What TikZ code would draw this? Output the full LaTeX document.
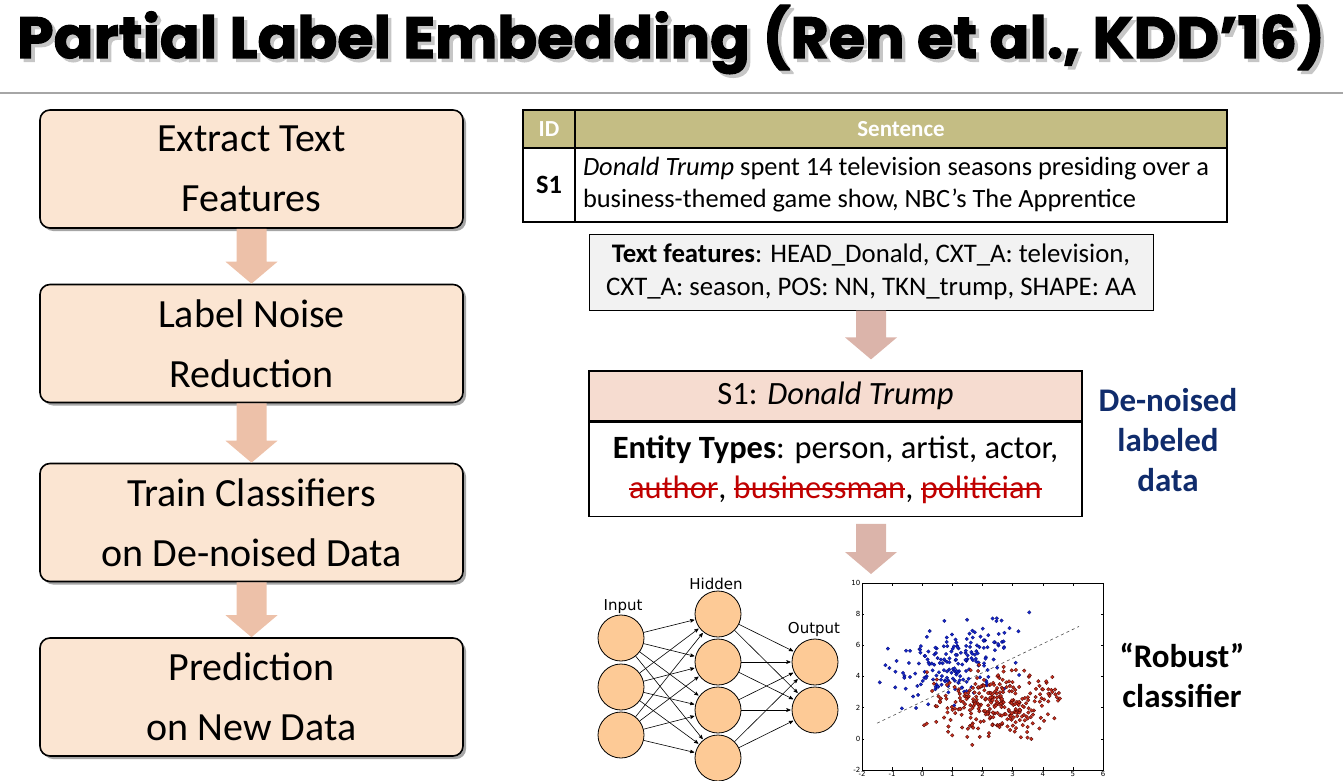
\documentclass[tikz,border=0pt]{standalone}
\usepackage{fontspec}
\usepackage{graphicx}
\setmainfont{Carlito}
\newfontfamily\titlefont{Poppins}[BoldFeatures={FakeBold=2}]
\newfontfamily\netfont{DejaVu Sans}
\usetikzlibrary{positioning}
\usetikzlibrary{arrows}
\usetikzlibrary{calc}
\usetikzlibrary{shadows}

\definecolor{boxfill}{HTML}{FBE5D2}
\definecolor{leftarrow}{HTML}{EDC1A9}
\definecolor{rightarrow}{HTML}{DBB4AA}
\definecolor{hdolive}{HTML}{C4BD84}
\definecolor{featfill}{HTML}{F2F2F2}
\definecolor{entfill}{HTML}{F6DCD0}
\definecolor{navytext}{HTML}{102C6C}
\definecolor{strikered}{HTML}{C00000}
\definecolor{neuronfill}{HTML}{FDCA96}
\definecolor{dotblue}{HTML}{1428C8}
\definecolor{dotred}{HTML}{C8321E}

\newlength{\strikelen}
\newcommand{\noisy}[1]{\settowidth{\strikelen}{#1}%
  \textcolor{strikered}{\rlap{\rule[0.25em]{\strikelen}{1.5pt}}#1}}
\newcommand{\titletext}{Partial Label Embedding (Ren et al., KDD’16)}

% fat block arrow: colour, from, to
\newcommand{\fatarrow}[3]{%
  \fill[#1] let \p1=#2, \p2=#3 in
    (\x1-15pt,\y1) -- (\x1+15pt,\y1) -- (\x1+15pt,\y2+22pt) -- (\x1+26pt,\y2+22pt)
    -- (\x1,\y2) -- (\x1-26pt,\y2+22pt) -- (\x1-15pt,\y2+22pt) -- cycle;}

\begin{document}
\begin{tikzpicture}[x=1pt,y=-1pt,
	stepbox/.style={draw=black,line width=1.6pt,rounded corners=10pt,fill=boxfill,
		minimum width=423pt,minimum height=118pt,text width=405pt,inner sep=5pt,align=flush center,
		font=\fontsize{40}{60}\selectfont,
		drop shadow={shadow xshift=3pt,shadow yshift=-3pt,opacity=0.35,fill=black}},
	hdcell/.style={draw=black,line width=1.2pt,fill=hdolive,minimum height=38pt,inner sep=0pt,
		text=white,font=\fontsize{23}{26}\selectfont\bfseries},
	rowcell/.style={draw=black,line width=1.2pt,fill=white,minimum height=74pt,inner sep=0pt,
		font=\fontsize{26.4}{32}\selectfont},
	featbox/.style={draw=black,line width=1pt,fill=featfill,minimum width=564pt,minimum height=76pt,
		inner sep=0pt,align=flush center,font=\fontsize{26.8}{33}\selectfont},
	enthead/.style={draw=black,line width=1.2pt,fill=entfill,minimum width=493pt,minimum height=50pt,
		inner sep=0pt,font=\fontsize{32.5}{40}\selectfont},
	entbody/.style={draw=black,line width=1.2pt,fill=white,minimum width=493pt,minimum height=94pt,
		inner sep=0pt,align=flush center,font=\fontsize{32.5}{40}\selectfont},
	sidelbl/.style={align=flush center,inner sep=0pt,font=\fontsize{33}{40}\selectfont\bfseries},
	neuron/.style={circle,draw=black,line width=0.8pt,fill=neuronfill,minimum size=46pt,inner sep=0pt},
	netlbl/.style={inner sep=0pt,font=\fontsize{15}{18}\netfont},
	netarrow/.style={->,>=stealth',line width=0.6pt,shorten >=1pt},
	ticklbl/.style={inner sep=1.5pt,font=\fontsize{7}{8}\netfont}]

\useasboundingbox (0,0) rectangle (1343,781);

% title, with its shadow in the same box
\node[anchor=base,inner sep=0pt] (title) at (671,58)
	{\resizebox{1308pt}{53pt}{\titlefont\bfseries
		\rlap{\hspace{0.6pt}\raisebox{-0.6pt}{\textcolor{gray!45}{\titletext}}}\titletext}};
\draw[gray!70,line width=1.5pt] (0,93) -- (1343,93);

% pipeline
\node[stepbox] (extract) at (251.5,169) {Extract Text\\Features};
\node[stepbox] (noise) at (251.5,343.5) {Label Noise\\Reduction};
\node[stepbox] (train) at (251.5,522.5) {Train Classifiers\\on De-noised Data};
\node[stepbox] (predict) at (251.5,697) {Prediction\\on New Data};

\fatarrow{leftarrow}{(extract.south)}{(noise.north)}
\fatarrow{leftarrow}{(noise.south)}{(train.north)}
\fatarrow{leftarrow}{(train.south)}{(predict.north)}

% sentence table
\node[hdcell,minimum width=52pt] (idhead) at (549,129) {ID};
\node[hdcell,minimum width=652pt] (senthead) at (901,129) {Sentence};
\node[rowcell,minimum width=52pt] (idrow) at (549,185) {\textbf{S1}};
\node[rowcell,minimum width=652pt,text width=636pt,align=flush left] (sentrow) at (901,185)
	{\textit{Donald Trump} spent 14 television seasons presiding over a\\business-themed game show, NBC’s The Apprentice};

\node[featbox] (feat) at (871,272)
	{\textbf{Text features}: HEAD\_Donald, CXT\_A: television,\\CXT\_A: season, POS: NN, TKN\_trump, SHAPE: AA};

\node[enthead] (ent) at (835.5,396) {S1: \textit{Donald Trump}};
\node[entbody,below=0pt of ent] (types)
	{\textbf{Entity Types}: person, artist, actor,\\\noisy{author}, \noisy{businessman}, \noisy{politician}};

\node[sidelbl,text=navytext] (denoised) at (1168,440) {De-noised\\labeled\\data};

\coordinate (plottop) at (873,574);
\fatarrow{rightarrow}{(feat.south)}{($(feat.south |- ent.north)+(0,-11)$)}
\fatarrow{rightarrow}{($(feat.south |- types.south)+(0,7)$)}{(plottop)}

% network
\node[netlbl] (inlbl) at (623,607) {Input};
\node[netlbl] (hidlbl) at (716,584) {Hidden};
\node[netlbl] (outlbl) at (814,629) {Output};
\foreach \i/\y in {1/638,2/687,3/735}
	\node[neuron] (in\i) at (621,\y) {};
\foreach \i/\y in {1/614,2/662,3/710,4/758}
	\node[neuron] (hid\i) at (718,\y) {};
\foreach \i/\y in {1/662,2/710}
	\node[neuron] (out\i) at (815,\y) {};
\foreach \i in {1,2,3}
	\foreach \j in {1,...,4}
		\draw[netarrow] (in\i) -- (hid\j);
\foreach \j in {1,...,4}
	\foreach \k in {1,2}
		\draw[netarrow] (hid\j) -- (out\k);

% scatter plot
\begin{scope}[shift={(922.25,738.8)},x=30.125pt,y=15.6pt]
	\fill[white] (-2,-2) rectangle (6,10);
	\begin{scope}
		\clip (-2,-2) rectangle (6,10);
		\draw[dashed,gray!60!black,line width=0.6pt] (-1.5,1) -- (5.2,7.2);
		\pgfmathsetseed{11}
		\foreach \n in {1,...,200} {
			\pgfmathsetmacro\gx{rand+rand+rand}
			\pgfmathsetmacro\gy{rand+rand+rand}
			\filldraw[fill=dotblue,draw=blue!40!black,line width=0.2pt]
				({1.0+0.95*\gx},{5.0+0.5*\gx+1.15*\gy}) circle[radius=1.8pt];
		}
		\foreach \n in {1,...,300} {
			\pgfmathsetmacro\gx{rand+rand+rand}
			\pgfmathsetmacro\gy{rand+rand+rand}
			\filldraw[fill=dotred,draw=red!30!black,line width=0.3pt]
				({2.35+1.0*\gx},{2.3+0.1*\gx+1.0*\gy}) circle[radius=1.8pt];
		}
	\end{scope}
	\draw[line width=0.6pt] (-2,-2) rectangle (6,10);
	\foreach \t in {-2,...,6} {
		\draw[line width=0.4pt] (\t,-2) -- ++(0,0.2) (\t,10) -- ++(0,-0.2);
		\node[ticklbl,below] (xt\t) at (\t,-2) {\t};
	}
	\foreach \t in {-2,0,...,10} {
		\draw[line width=0.4pt] (-2,\t) -- ++(0.08,0) (6,\t) -- ++(-0.08,0);
		\node[ticklbl,left] (yt\t) at (-2,\t) {\t};
	}
\end{scope}

\node[sidelbl] (robust) at (1182,675) {“Robust”\\classifier};
\end{tikzpicture}
\end{document}
